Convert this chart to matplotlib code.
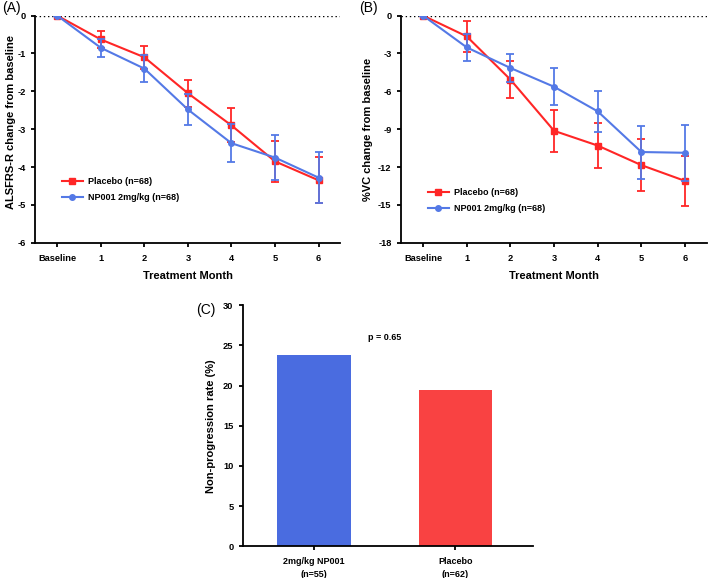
import matplotlib
matplotlib.use("Agg")
import matplotlib.pyplot as plt
from matplotlib.lines import Line2D
import numpy as np

plt.rcParams['font.family'] = ['Liberation Sans', 'DejaVu Sans']
plt.rcParams['axes.unicode_minus'] = False

months = ["Baseline", "1", "2", "3", "4", "5", "6"]

# Panel A: ALSFRS-R change
a_placebo = [0, -0.63, -1.10, -2.05, -2.90, -3.85, -4.35]
a_placebo_err = [0, 0.23, 0.31, 0.36, 0.45, 0.55, 0.61]
a_np001 = [0, -0.85, -1.40, -2.48, -3.37, -3.75, -4.28]
a_np001_err = [0, 0.24, 0.35, 0.42, 0.50, 0.60, 0.68]

# Panel B: %VC change
b_placebo = [0, -1.65, -5.07, -9.13, -10.30, -11.85, -13.10]
b_placebo_err = [0, 1.20, 1.48, 1.65, 1.80, 2.05, 1.95]
b_np001 = [0, -2.52, -4.15, -5.64, -7.59, -10.81, -10.87]
b_np001_err = [0, 1.07, 1.10, 1.45, 1.60, 2.10, 2.20]

# Panel C: non-progression rate
c_groups = ["2mg/kg NP001\n(n=55)", "Placebo\n(n=62)"]
c_values = [23.8, 19.5]
p_text = "p = 0.65"

RED = "#FF2626"
BLUE = "#5479E6"
BAR_BLUE = "#4A6CE0"
BAR_RED = "#F94242"

fig = plt.figure(figsize=(7.09, 5.78), dpi=100)

def style_axes(ax):
    for t in ax.get_yticklabels():
        t.set_fontweight('bold')
        t.set_fontsize(6.7)
    ax.spines['top'].set_visible(False)
    ax.spines['right'].set_visible(False)
    ax.spines['left'].set_linewidth(1.3)
    ax.spines['bottom'].set_linewidth(1.3)
    ax.tick_params(axis='both', width=1.3, length=3)
    ax.tick_params(axis='y', pad=4)
    ax.tick_params(axis='x', pad=5)

def line_panel(ax, placebo, perr, np1, nerr, ylim, yticks, ylabel, legend_y, lab_xy):
    x = np.arange(len(months))
    ax.errorbar(x, placebo, yerr=perr, color=RED, marker='s', ms=4, lw=1.5,
                elinewidth=1.3, capsize=3, capthick=1.3, zorder=3)
    ax.errorbar(x, np1, yerr=nerr, color=BLUE, marker='o', ms=4, lw=1.5,
                elinewidth=1.3, capsize=3, capthick=1.3, zorder=4)
    ax.axhline(0, color='black', ls=(0, (1, 2)), lw=1.0, zorder=1)
    ax.set_xlim(-0.5, 6.5)
    ax.set_ylim(*ylim)
    ax.set_yticks(yticks)
    ax.set_xticks(x)
    ax.set_xticklabels(months, fontweight='bold', fontsize=6.7)
    style_axes(ax)
    ax.set_xlabel("Treatment Month", fontweight='bold', fontsize=8, labelpad=6)
    ax.set_ylabel(ylabel, fontweight='bold', fontsize=8)
    ax.yaxis.set_label_coords(*lab_xy)
    handles = [Line2D([], [], color=RED, marker='s', ms=4, lw=1.5),
               Line2D([], [], color=BLUE, marker='o', ms=4, lw=1.5)]
    ax.legend(handles, ["Placebo (n=68)", "NP001 2mg/kg (n=68)"],
              loc='upper left', bbox_to_anchor=(0.06, legend_y), frameon=False,
              prop={'weight': 'bold', 'size': 6.5}, handlelength=2.3,
              handletextpad=0.6, labelspacing=0.75)

axA = fig.add_axes([0.050, 0.580, 0.430, 0.393])
line_panel(axA, a_placebo, a_placebo_err, a_np001, a_np001_err,
           (-6, 0), [0, -1, -2, -3, -4, -5, -6], "ALSFRS-R change from baseline",
           0.325, (-0.065, 0.53))
fig.text(0.003, 0.986, "(A)", fontsize=10, va='center', ha='left')

axB = fig.add_axes([0.566, 0.580, 0.431, 0.393])
line_panel(axB, b_placebo, b_placebo_err, b_np001, b_np001_err,
           (-18, 0), [0, -3, -6, -9, -12, -15, -18], "%VC change from baseline",
           0.277, (-0.093, 0.5))
fig.text(0.506, 0.986, "(B)", fontsize=10, va='center', ha='left')

axC = fig.add_axes([0.343, 0.055, 0.409, 0.417])
xc = np.arange(len(c_groups))
axC.bar(xc, c_values, width=0.52, color=[BAR_BLUE, BAR_RED], zorder=2)
axC.set_xlim(-0.5, 1.55)
axC.set_ylim(0, 30)
axC.set_yticks([0, 5, 10, 15, 20, 25, 30])
axC.set_xticks(xc)
axC.set_xticklabels(c_groups, fontweight='bold', fontsize=6.5, linespacing=1.5)
style_axes(axC)
axC.set_ylabel("Non-progression rate (%)", fontweight='bold', fontsize=8)
axC.yaxis.set_label_coords(-0.093, 0.5)
axC.text(0.5, 26.0, p_text, fontweight='bold', fontsize=6.5, ha='center', va='center')
fig.text(0.277, 0.463, "(C)", fontsize=10, va='center', ha='left')

fig.savefig("out.png", dpi=100)
